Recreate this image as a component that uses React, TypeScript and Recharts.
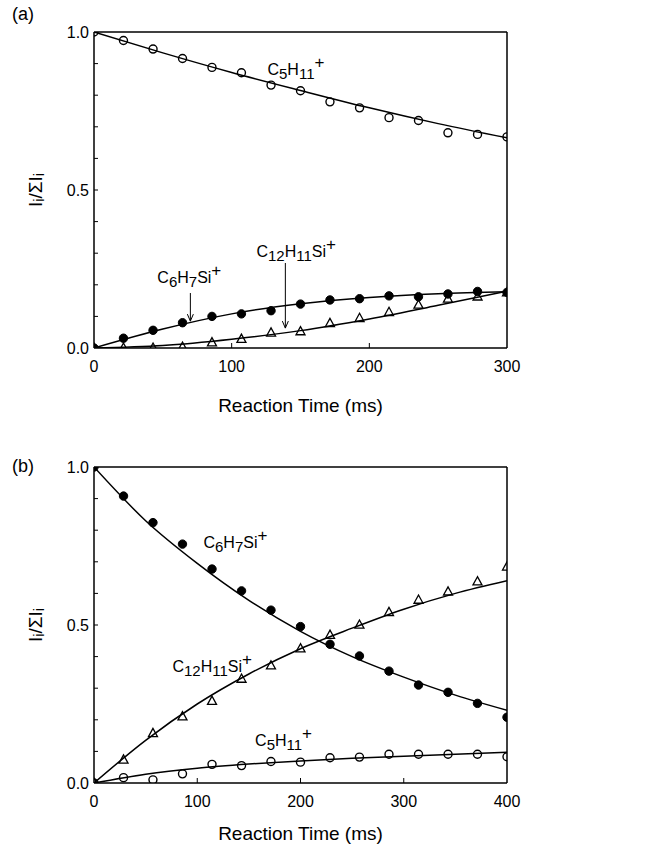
import React from 'react';
import { ComposedChart, Line, Scatter, XAxis, YAxis, ReferenceLine, ReferenceDot } from 'recharts';

const FONT = '"Liberation Sans", Arial, Helvetica, sans-serif';

// ---------- Panel (a) data ----------
const timesA = [0, 21.4, 42.9, 64.3, 85.7, 107.1, 128.6, 150, 171.4, 192.9, 214.3, 235.7, 257.1, 278.6, 300];
const aC5H11 = [1.0, 0.973, 0.946, 0.916, 0.888, 0.871, 0.832, 0.814, 0.779, 0.76, 0.729, 0.72, 0.681, 0.676, 0.668];
const aC6H7Si = [0, 0.031, 0.056, 0.08, 0.1, 0.108, 0.118, 0.139, 0.152, 0.156, 0.165, 0.162, 0.171, 0.179, 0.176];
const aC12H11Si = [0, 0, 0, 0.003, 0.017, 0.028, 0.048, 0.052, 0.078, 0.094, 0.113, 0.136, 0.155, 0.162, 0.175];

const fitTimesA = [0, 50, 100, 150, 200, 250, 300];
const fitAC5H11 = [1.0, 0.934, 0.872, 0.815, 0.76, 0.71, 0.665];
const fitAC6H7Si = [0, 0.06, 0.108, 0.14, 0.16, 0.172, 0.178];
const fitAC12H11Si = [0, 0.008, 0.028, 0.055, 0.092, 0.135, 0.18];

// ---------- Panel (b) data ----------
const timesB = [0, 28.6, 57.1, 85.7, 114.3, 142.9, 171.4, 200, 228.6, 257.1, 285.7, 314.3, 342.9, 371.4, 400];
const bC6H7Si = [1.0, 0.908, 0.824, 0.756, 0.677, 0.608, 0.547, 0.495, 0.439, 0.402, 0.354, 0.31, 0.287, 0.252, 0.208];
const bC12H11Si = [0, 0.073, 0.157, 0.21, 0.259, 0.329, 0.371, 0.425, 0.468, 0.5, 0.54, 0.579, 0.605, 0.637, 0.684];
const bC5H11 = [0, 0.017, 0.01, 0.029, 0.059, 0.055, 0.068, 0.066, 0.08, 0.082, 0.091, 0.091, 0.091, 0.091, 0.083];

const fitTimesB = [0, 50, 100, 150, 200, 250, 300, 350, 400];
const fitBC6H7Si = [1.0, 0.83, 0.695, 0.578, 0.48, 0.4, 0.335, 0.278, 0.23];
const fitBC12H11Si = [0, 0.135, 0.25, 0.345, 0.425, 0.49, 0.55, 0.6, 0.64];
const fitBC5H11 = [0, 0.028, 0.047, 0.06, 0.07, 0.078, 0.085, 0.091, 0.097];

// ---------- Ticks and labels ----------
const yTicks = [0, 0.1, 0.2, 0.3, 0.4, 0.5, 0.6, 0.7, 0.8, 0.9, 1.0];
const yLabelTicks = [0, 0.5, 1.0];
const xTicksA = [0, 100, 200, 300];
const xTicksB = [0, 100, 200, 300, 400];
const xTitle = 'Reaction Time (ms)';

type Part = { s: string; k?: 'sub' | 'sup' };
const F_C5H11: Part[] = [{ s: 'C' }, { s: '5', k: 'sub' }, { s: 'H' }, { s: '11', k: 'sub' }, { s: '+', k: 'sup' }];
const F_C6H7Si: Part[] = [{ s: 'C' }, { s: '6', k: 'sub' }, { s: 'H' }, { s: '7', k: 'sub' }, { s: 'Si' }, { s: '+', k: 'sup' }];
const F_C12H11Si: Part[] = [{ s: 'C' }, { s: '12', k: 'sub' }, { s: 'H' }, { s: '11', k: 'sub' }, { s: 'Si' }, { s: '+', k: 'sup' }];

const zip = (ts: number[], vs: number[]) => ts.map((t, i) => ({ t, v: vs[i] }));

const Formula = ({ x, y, parts, size = 16 }: { x: number; y: number; parts: Part[]; size?: number }) => {
  let off = 0;
  return (
    <text x={x} y={y} fontSize={size} fontFamily={FONT} fill="#000">
      {parts.map((p, i) => {
        const target = p.k === 'sub' ? 4 : p.k === 'sup' ? -7 : 0;
        const dy = target - off;
        off = target;
        return (
          <tspan key={i} dy={dy} fontSize={p.k === 'sub' ? size - 1 : p.k === 'sup' ? size + 1 : size}>
            {p.s}
          </tspan>
        );
      })}
    </text>
  );
};

const YTick = (props: any) => {
  const { x, y, payload } = props;
  const v = payload.value as number;
  const showLabel = yLabelTicks.some((m) => Math.abs(m - v) < 1e-6);
  return (
    <g>
      {v > 0.001 && v < 0.999 && <line x1={x} x2={x + 4} y1={y} y2={y} stroke="#000" strokeWidth={1} />}
      {showLabel && (
        <text x={x - 5} y={y} textAnchor="end" dominantBaseline="central" fontSize={16} fontFamily={FONT} fill="#000">
          {v.toFixed(1)}
        </text>
      )}
    </g>
  );
};

const makeXTick = (max: number) => (props: any) => {
  const { x, y, payload } = props;
  const v = payload.value as number;
  return (
    <g>
      {v > 0 && v < max && <line x1={x} x2={x} y1={y} y2={y - 5} stroke="#000" strokeWidth={1} />}
      <text x={x} y={y + 18} textAnchor="middle" dominantBaseline="central" fontSize={16} fontFamily={FONT} fill="#000">
        {v}
      </text>
    </g>
  );
};

const XTitle = (offset: number) => (props: any) => {
  const vb = props.viewBox;
  return (
    <text x={vb.x + vb.width / 2} y={vb.y + offset} textAnchor="middle" dominantBaseline="central" fontSize={19} fontFamily={FONT} fill="#000">
      {xTitle}
    </text>
  );
};

const YTitle = (props: any) => {
  const vb = props.viewBox;
  const cx = 35;
  const cy = vb.y + vb.height / 2;
  return (
    <text
      x={cx}
      y={cy}
      transform={`rotate(-90 ${cx} ${cy})`}
      textAnchor="middle"
      dominantBaseline="central"
      fontSize={19}
      fontFamily={FONT}
      fill="#000"
    >
      <tspan>I</tspan>
      <tspan dy={4} fontSize={14}>i</tspan>
      <tspan dy={-4}>/ΣI</tspan>
      <tspan dy={4} fontSize={14}>i</tspan>
    </text>
  );
};

const OpenCircle = (p: any) => <circle cx={p.cx} cy={p.cy} r={4} fill="none" stroke="#000" strokeWidth={1.4} />;
const FilledCircle = (p: any) => <circle cx={p.cx} cy={p.cy} r={4.2} fill="#000" stroke="#000" strokeWidth={1} />;
const OpenTriangle = (p: any) => (
  <polygon
    points={`${p.cx},${p.cy - 5} ${p.cx - 4.5},${p.cy + 3.2} ${p.cx + 4.5},${p.cy + 3.2}`}
    fill="none"
    stroke="#000"
    strokeWidth={1.3}
  />
);

const Arrow = (p: any) => {
  const { x1, y1, x2, y2 } = p;
  return (
    <g>
      <line x1={x1} y1={y1} x2={x2} y2={y2} stroke="#000" strokeWidth={1} />
      <path d={`M ${x2 - 3} ${y2 - 7} L ${x2} ${y2} L ${x2 + 3} ${y2 - 7}`} fill="none" stroke="#000" strokeWidth={1} />
    </g>
  );
};

const formulaLabel = (parts: Part[]) => (props: any) => {
  const vb = props.viewBox;
  return <Formula x={vb.x} y={vb.y} parts={parts} />;
};

const axisStroke = { stroke: '#000', strokeWidth: 1.5 };

export default function App() {
  return (
    <div style={{ position: 'absolute', left: 0, top: 0, width: 646, height: 846, background: '#fff' }}>
      <div style={{ position: 'absolute', left: 12, top: 4, fontSize: 18, fontFamily: FONT }}>(a)</div>
      <div style={{ position: 'absolute', left: 12, top: 456, fontSize: 18, fontFamily: FONT }}>(b)</div>

      <div style={{ position: 'absolute', left: 0, top: 0 }}>
        <ComposedChart width={646} height={420} margin={{ top: 32, right: 139, bottom: 0, left: 0 }}>
          <XAxis
            dataKey="t"
            type="number"
            domain={[0, 300]}
            ticks={xTicksA}
            tickSize={0}
            tickMargin={0}
            height={72}
            axisLine={axisStroke}
            tickLine={false}
            tick={makeXTick(300)}
            label={{ content: XTitle(57) }}
            allowDataOverflow
          />
          <YAxis
            type="number"
            domain={[0, 1]}
            ticks={yTicks}
            width={94}
            tickSize={0}
            tickMargin={0}
            axisLine={axisStroke}
            tickLine={false}
            tick={YTick}
            interval={0}
            label={{ content: YTitle }}
            allowDataOverflow
          />
          <ReferenceLine y={1} stroke="#000" strokeWidth={1.5} />
          <ReferenceLine x={300} stroke="#000" strokeWidth={1.5} />

          <Line data={zip(fitTimesA, fitAC5H11)} dataKey="v" type="monotone" dot={false} activeDot={false} stroke="#000" strokeWidth={1.5} isAnimationActive={false} />
          <Line data={zip(fitTimesA, fitAC6H7Si)} dataKey="v" type="monotone" dot={false} activeDot={false} stroke="#000" strokeWidth={1.5} isAnimationActive={false} />
          <Line data={zip(fitTimesA, fitAC12H11Si)} dataKey="v" type="monotone" dot={false} activeDot={false} stroke="#000" strokeWidth={1.5} isAnimationActive={false} />

          <Scatter data={zip(timesA, aC5H11)} dataKey="v" shape={OpenCircle} isAnimationActive={false} />
          <Scatter data={zip(timesA, aC6H7Si)} dataKey="v" shape={FilledCircle} isAnimationActive={false} />
          <Scatter data={zip(timesA, aC12H11Si)} dataKey="v" shape={OpenTriangle} isAnimationActive={false} />

          <ReferenceLine segment={[{ x: 70, y: 0.174 }, { x: 70, y: 0.085 }]} shape={Arrow} />
          <ReferenceLine segment={[{ x: 139, y: 0.269 }, { x: 139, y: 0.063 }]} shape={Arrow} />

          <ReferenceDot x={126} y={0.864} r={0} fill="none" stroke="none" label={{ content: formulaLabel(F_C5H11) }} />
          <ReferenceDot x={46} y={0.206} r={0} fill="none" stroke="none" label={{ content: formulaLabel(F_C6H7Si) }} />
          <ReferenceDot x={118} y={0.288} r={0} fill="none" stroke="none" label={{ content: formulaLabel(F_C12H11Si) }} />
        </ComposedChart>
      </div>

      <div style={{ position: 'absolute', left: 0, top: 430 }}>
        <ComposedChart width={646} height={416} margin={{ top: 37, right: 139, bottom: 0, left: 0 }}>
          <XAxis
            dataKey="t"
            type="number"
            domain={[0, 400]}
            ticks={xTicksB}
            tickSize={0}
            tickMargin={0}
            height={63}
            axisLine={axisStroke}
            tickLine={false}
            tick={makeXTick(400)}
            label={{ content: XTitle(50) }}
            allowDataOverflow
          />
          <YAxis
            type="number"
            domain={[0, 1]}
            ticks={yTicks}
            width={94}
            tickSize={0}
            tickMargin={0}
            axisLine={axisStroke}
            tickLine={false}
            tick={YTick}
            interval={0}
            label={{ content: YTitle }}
            allowDataOverflow
          />
          <ReferenceLine y={1} stroke="#000" strokeWidth={1.5} />
          <ReferenceLine x={400} stroke="#000" strokeWidth={1.5} />

          <Line data={zip(fitTimesB, fitBC6H7Si)} dataKey="v" type="monotone" dot={false} activeDot={false} stroke="#000" strokeWidth={1.5} isAnimationActive={false} />
          <Line data={zip(fitTimesB, fitBC12H11Si)} dataKey="v" type="monotone" dot={false} activeDot={false} stroke="#000" strokeWidth={1.5} isAnimationActive={false} />
          <Line data={zip(fitTimesB, fitBC5H11)} dataKey="v" type="monotone" dot={false} activeDot={false} stroke="#000" strokeWidth={1.5} isAnimationActive={false} />

          <Scatter data={zip(timesB, bC6H7Si)} dataKey="v" shape={FilledCircle} isAnimationActive={false} />
          <Scatter data={zip(timesB, bC12H11Si)} dataKey="v" shape={OpenTriangle} isAnimationActive={false} />
          <Scatter data={zip(timesB, bC5H11)} dataKey="v" shape={OpenCircle} isAnimationActive={false} />

          <ReferenceDot x={106} y={0.744} r={0} fill="none" stroke="none" label={{ content: formulaLabel(F_C6H7Si) }} />
          <ReferenceDot x={76} y={0.351} r={0} fill="none" stroke="none" label={{ content: formulaLabel(F_C12H11Si) }} />
          <ReferenceDot x={156} y={0.117} r={0} fill="none" stroke="none" label={{ content: formulaLabel(F_C5H11) }} />
        </ComposedChart>
      </div>
    </div>
  );
}
